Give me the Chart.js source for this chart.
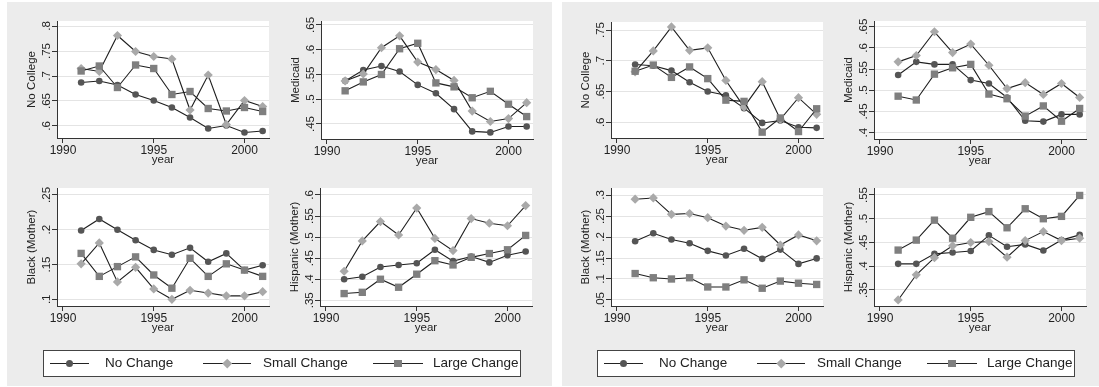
<!DOCTYPE html>
<html>
<head>
<meta charset="utf-8">
<script src="https://cdn.jsdelivr.net/npm/chart.js@4.4.1/dist/chart.umd.min.js"></script>
<style>
body { margin: 0; width: 1099px; height: 387px; background: #fff; position: relative; overflow: hidden;
       font-family: "Liberation Sans", Arial, sans-serif; }
.panel { position: absolute; top: 2px; width: 545px; height: 384px; background: #ececec; }
canvas { position: absolute; }
.legend { position: absolute; top: 350px; width: 476px; height: 25px; border: 1px solid #444; background: #fff; }
.key { position: absolute; height: 1px; background: #222; }
.mk { position: absolute; }
.lbl { position: absolute; font-size: 13.5px; color: #222; line-height: 16px; white-space: nowrap; }
</style>
</head>
<body>
<div class="panel" style="left:7px"></div>
<div class="panel" style="left:562px"></div>
<script>
var years = [1991, 1992, 1993, 1994, 1995, 1996, 1997, 1998, 1999, 2000, 2001];
var xTicks = [1990, 1995, 2000];
var seriesNames = ['No Change', 'Small Change', 'Large Change'];

// left graph
var ncA_no    = [0.687, 0.690, 0.682, 0.663, 0.651, 0.637, 0.617, 0.595, 0.601, 0.587, 0.590];
var ncA_small = [0.715, 0.709, 0.781, 0.749, 0.739, 0.734, 0.632, 0.702, 0.603, 0.651, 0.639];
var ncA_large = [0.710, 0.720, 0.677, 0.722, 0.715, 0.663, 0.669, 0.635, 0.630, 0.637, 0.629];
var ncA_ticks = [0.6, 0.65, 0.7, 0.75, 0.8];

var medA_no    = [0.537, 0.559, 0.567, 0.556, 0.529, 0.512, 0.480, 0.435, 0.433, 0.445, 0.445];
var medA_small = [0.537, 0.551, 0.604, 0.628, 0.575, 0.560, 0.538, 0.476, 0.455, 0.461, 0.493];
var medA_large = [0.517, 0.535, 0.550, 0.602, 0.613, 0.533, 0.525, 0.503, 0.516, 0.490, 0.465];
var medA_ticks = [0.45, 0.5, 0.55, 0.6, 0.65];

var blackA_no    = [0.199, 0.2155, 0.200, 0.185, 0.171, 0.164, 0.174, 0.154, 0.166, 0.142, 0.149];
var blackA_small = [0.151, 0.181, 0.125, 0.146, 0.115, 0.100, 0.113, 0.109, 0.105, 0.105, 0.111];
var blackA_large = [0.166, 0.133, 0.147, 0.161, 0.135, 0.116, 0.159, 0.133, 0.151, 0.142, 0.133];
var blackA_ticks = [0.1, 0.15, 0.2, 0.25];

var hispA_no    = [0.400, 0.406, 0.429, 0.434, 0.438, 0.470, 0.443, 0.454, 0.440, 0.457, 0.466];
var hispA_small = [0.419, 0.491, 0.537, 0.505, 0.569, 0.497, 0.468, 0.544, 0.533, 0.527, 0.575];
var hispA_large = [0.366, 0.369, 0.400, 0.381, 0.412, 0.444, 0.434, 0.452, 0.461, 0.470, 0.504];
var hispA_ticks = [0.35, 0.4, 0.45, 0.5, 0.55, 0.6];

// right graph
var ncB_no    = [0.694, 0.692, 0.684, 0.665, 0.650, 0.644, 0.623, 0.599, 0.603, 0.592, 0.591];
var ncB_small = [0.682, 0.716, 0.755, 0.717, 0.721, 0.668, 0.625, 0.666, 0.605, 0.640, 0.613];
var ncB_large = [0.683, 0.693, 0.673, 0.690, 0.671, 0.636, 0.634, 0.584, 0.607, 0.585, 0.622];
var ncB_ticks = [0.6, 0.65, 0.7, 0.75];

var medB_no    = [0.536, 0.567, 0.561, 0.561, 0.524, 0.516, 0.483, 0.428, 0.426, 0.443, 0.443];
var medB_small = [0.567, 0.582, 0.638, 0.589, 0.609, 0.559, 0.504, 0.518, 0.490, 0.516, 0.483];
var medB_large = [0.486, 0.477, 0.538, 0.553, 0.561, 0.491, 0.480, 0.439, 0.463, 0.427, 0.457];
var medB_ticks = [0.4, 0.45, 0.5, 0.55, 0.6, 0.65];

var blackB_no    = [0.190, 0.209, 0.194, 0.185, 0.167, 0.156, 0.172, 0.148, 0.170, 0.136, 0.149];
var blackB_small = [0.290, 0.293, 0.254, 0.256, 0.246, 0.226, 0.216, 0.223, 0.181, 0.205, 0.191];
var blackB_large = [0.113, 0.103, 0.100, 0.103, 0.081, 0.081, 0.098, 0.078, 0.095, 0.090, 0.087];
var blackB_ticks = [0.05, 0.1, 0.15, 0.2, 0.25, 0.3];

var hispB_no    = [0.405, 0.405, 0.426, 0.429, 0.432, 0.465, 0.441, 0.446, 0.433, 0.455, 0.466];
var hispB_small = [0.329, 0.382, 0.418, 0.443, 0.450, 0.452, 0.419, 0.454, 0.473, 0.454, 0.459];
var hispB_large = [0.434, 0.455, 0.497, 0.459, 0.503, 0.515, 0.481, 0.521, 0.500, 0.505, 0.549];
var hispB_ticks = [0.35, 0.4, 0.45, 0.5, 0.55];

var FONT = '"Liberation Sans", Arial, sans-serif';
var XTICK_SIZE = 12, YTICK_SIZE = 11.5, TITLE_SIZE = 11.5;
var markStyle = ['circle', 'rectRot', 'rect'];
var markRadius = [3.3, 4.6, 5.2];
var markFill = ['#555555', '#a9a9a9', '#7f7f7f'];

// stata style tick text: .75 instead of 0.75
function stataNum(v) {
  return String(+v.toFixed(3)).replace(/^0\./, '.');
}

var plotBg = {
  id: 'plotBg',
  beforeDraw: function (chart) {
    var a = chart.chartArea, ctx = chart.ctx;
    ctx.save();
    ctx.fillStyle = '#fff';
    ctx.fillRect(a.left, a.top, a.right - a.left, a.bottom - a.top);
    ctx.restore();
  }
};

// rotated y tick labels like stata
var yLabels = {
  id: 'yLabels',
  afterDraw: function (chart) {
    var sc = chart.scales.y, ctx = chart.ctx, a = chart.chartArea;
    ctx.save();
    ctx.fillStyle = '#222';
    ctx.font = YTICK_SIZE + 'px ' + FONT;
    ctx.textAlign = 'center';
    ctx.textBaseline = 'middle';
    sc.ticks.forEach(function (t) {
      ctx.save();
      ctx.translate(a.left - 10, sc.getPixelForValue(t.value));
      ctx.rotate(-Math.PI / 2);
      ctx.fillText(stataNum(t.value), 0, 0);
      ctx.restore();
    });
    ctx.restore();
  }
};

function makeChart(p) {
  var areaW = 212, areaH = p.bottom - p.top;
  var w = areaW + 60, h = areaH + 12 + 42;
  var cv = document.createElement('canvas');
  cv.width = w; cv.height = h;
  cv.style.left = (p.left - 50) + 'px';
  cv.style.top = (p.top - 12) + 'px';
  cv.style.width = w + 'px';
  cv.style.height = h + 'px';
  document.body.appendChild(cv);

  new Chart(cv, {
    type: 'line',
    data: {
      datasets: p.series.map(function (s, i) {
        return {
          label: seriesNames[i],
          data: years.map(function (y, j) { return { x: y, y: s[j] }; }),
          borderColor: '#1e1e1e',
          borderWidth: 1.1,
          pointStyle: markStyle[i],
          pointRadius: markRadius[i],
          pointBackgroundColor: markFill[i],
          pointBorderColor: markFill[i],
          pointBorderWidth: 0,
          tension: 0,
          order: 2 - i
        };
      })
    },
    options: {
      responsive: false,
      animation: false,
      devicePixelRatio: 1,
      layout: { padding: { top: 12, right: 10, left: 0, bottom: 0 } },
      plugins: { legend: { display: false }, tooltip: { enabled: false } },
      scales: {
        x: {
          type: 'linear',
          min: 1989.67,
          max: 2001.35,
          afterBuildTicks: function (ax) { ax.ticks = xTicks.map(function (v) { return { value: v }; }); },
          afterFit: function (ax) { ax.height = 42; },
          ticks: { callback: function (v) { return String(v); }, font: { size: XTICK_SIZE, family: FONT },
                   color: '#222', padding: 0, maxRotation: 0 },
          grid: { drawOnChartArea: false, tickLength: 5, tickColor: '#333' },
          border: { color: '#333' },
          title: { display: true, text: 'year', color: '#222', font: { size: TITLE_SIZE, family: FONT },
                   padding: { top: 0, bottom: 13 } }
        },
        y: {
          min: p.yMin,
          max: p.yMax,
          afterBuildTicks: function (ax) { ax.ticks = p.ticks.map(function (v) { return { value: v }; }); },
          afterFit: function (ax) { ax.width = 50; },
          ticks: { display: false },
          grid: { color: '#e4e4e4', tickLength: 5, tickColor: '#333' },
          border: { color: '#333' },
          title: { display: true, text: p.title, color: '#222', font: { size: TITLE_SIZE, family: FONT },
                   padding: { top: 18, bottom: 0 } }
        }
      }
    },
    plugins: [plotBg, yLabels]
  });
}

var plots = [
  { left: 57,  top: 21,  bottom: 138, yMin: 0.576,  yMax: 0.81,   ticks: ncA_ticks,    title: 'No College',       series: [ncA_no, ncA_small, ncA_large] },
  { left: 321, top: 21,  bottom: 139, yMin: 0.4197, yMax: 0.658,  ticks: medA_ticks,   title: 'Medicaid',         series: [medA_no, medA_small, medA_large] },
  { left: 57,  top: 188, bottom: 306, yMin: 0.0904, yMax: 0.260,  ticks: blackA_ticks, title: 'Black (Mother)',   series: [blackA_no, blackA_small, blackA_large] },
  { left: 320, top: 188, bottom: 306, yMin: 0.3365, yMax: 0.6166, ticks: hispA_ticks,  title: 'Hispanic (Mother)', series: [hispA_no, hispA_small, hispA_large] },
  { left: 611, top: 22,  bottom: 138, yMin: 0.5745, yMax: 0.763,  ticks: ncB_ticks,    title: 'No College',       series: [ncB_no, ncB_small, ncB_large] },
  { left: 874, top: 21,  bottom: 139, yMin: 0.385,  yMax: 0.6634, ticks: medB_ticks,   title: 'Medicaid',         series: [medB_no, medB_small, medB_large] },
  { left: 611, top: 188, bottom: 306, yMin: 0.0357, yMax: 0.3167, ticks: blackB_ticks, title: 'Black (Mother)',   series: [blackB_no, blackB_small, blackB_large] },
  { left: 874, top: 188, bottom: 306, yMin: 0.3163, yMax: 0.5647, ticks: hispB_ticks,  title: 'Hispanic (Mother)', series: [hispB_no, hispB_small, hispB_large] }
];
plots.forEach(makeChart);

// legends (one per graph)
var keyFrom = [6, 159, 329];
var keyTo = [45, 207, 379];
var textAt = [61, 219, 389];
var markCss = [
  'width:7px;height:7px;border-radius:50%;',
  'width:6.5px;height:6.5px;transform:rotate(45deg);',
  'width:7.4px;height:7.4px;'
];
[43, 597].forEach(function (bx) {
  var box = document.createElement('div');
  box.className = 'legend';
  box.style.left = bx + 'px';
  document.body.appendChild(box);
  seriesNames.forEach(function (name, i) {
    var k = document.createElement('div');
    k.className = 'key';
    k.style.left = keyFrom[i] + 'px';
    k.style.width = (keyTo[i] - keyFrom[i]) + 'px';
    k.style.top = '12px';
    box.appendChild(k);
    var m = document.createElement('div');
    m.className = 'mk';
    var sz = parseFloat(markCss[i].match(/width:([\d.]+)/)[1]);
    m.style.cssText = markCss[i] + 'background:' + markFill[i] + ';left:' +
      ((keyFrom[i] + keyTo[i]) / 2 - sz / 2) + 'px;top:' + (12.5 - sz / 2) + 'px;';
    box.appendChild(m);
    var t = document.createElement('div');
    t.className = 'lbl';
    t.style.left = textAt[i] + 'px';
    t.style.top = '4px';
    t.textContent = name;
    box.appendChild(t);
  });
});
</script>
</body>
</html>
